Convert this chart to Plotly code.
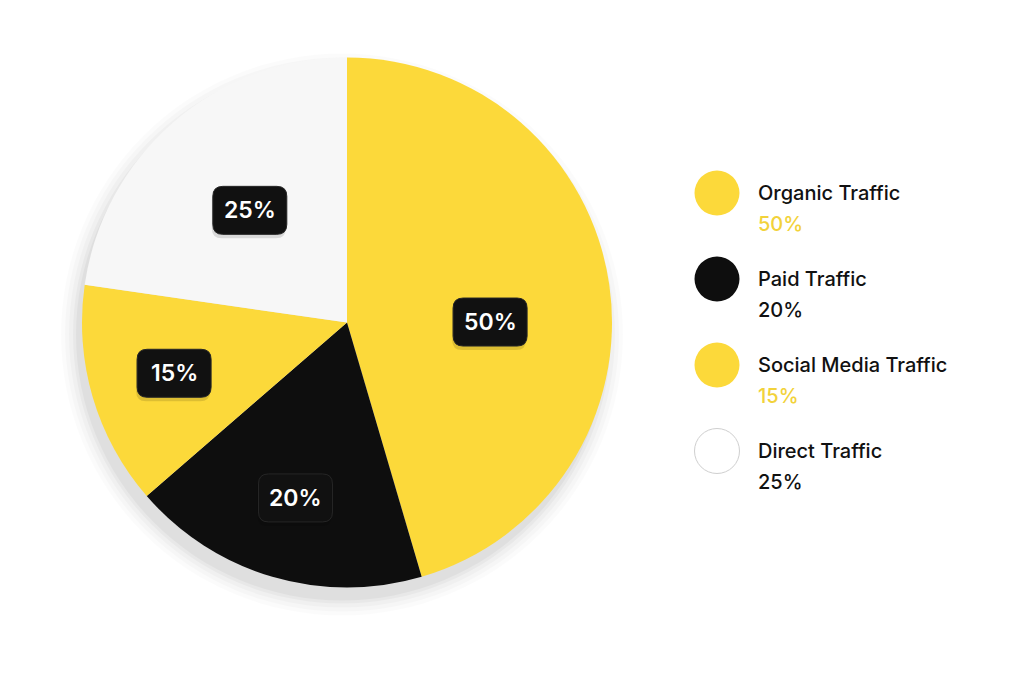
import math
import plotly.graph_objects as go

categories = ["Organic Traffic", "Paid Traffic", "Social Media Traffic", "Direct Traffic"]
values = [50, 20, 15, 25]
colors = ["#FCD93A", "#0E0E0E", "#FCD93A", "#F7F7F7"]
pct_colors = ["#F2D23A", "#111111", "#F2D23A", "#111111"]
label_radius = [0.54, 0.69, 0.68, 0.56]
label_angle_shift = [8, 0, 0, 0]  # degrees, clockwise

W, H = 1024, 683
px_left, px_right, px_top, px_bottom = 82, 612, 47, 598

fig = go.Figure()
fig.add_trace(go.Pie(
    labels=categories,
    values=values,
    sort=False,
    direction="clockwise",
    marker=dict(colors=colors, line=dict(width=0)),
    textinfo="none",
    hoverinfo="label+value",
    showlegend=False,
    domain=dict(x=[px_left / W, px_right / W], y=[1 - px_bottom / H, 1 - px_top / H]),
))

cx = (px_left + px_right) / 2
cy = (px_top + px_bottom) / 2
R = min(px_right - px_left, px_bottom - px_top) / 2

shapes = []
annotations = []

# soft shadow under the pie
for grow, op in [(16, 0.015), (12, 0.02), (8, 0.025), (4, 0.03), (1, 0.035)]:
    ox, oy = -5, 12
    shapes.append(dict(
        type="circle", xref="paper", yref="paper", layer="below",
        x0=(cx - R - grow + ox) / W, x1=(cx + R + grow + ox) / W,
        y0=1 - (cy + R + grow + oy) / H, y1=1 - (cy - R - grow + oy) / H,
        fillcolor=f"rgba(0,0,0,{op})", line=dict(width=0),
    ))

total = sum(values)
cum = 0
bw, bh, rr = 74, 48, 10
for i, v in enumerate(values):
    mid = (cum + v / 2) / total
    cum += v
    ang = math.pi / 2 - 2 * math.pi * mid - math.radians(label_angle_shift[i])
    lx = cx + R * label_radius[i] * math.cos(ang)
    ly = cy - R * label_radius[i] * math.sin(ang)
    xa, ya = lx / W, 1 - ly / H
    hw, hh = bw / 2, bh / 2
    path = (f"M {-hw+rr},{-hh} L {hw-rr},{-hh} Q {hw},{-hh} {hw},{-hh+rr} "
            f"L {hw},{hh-rr} Q {hw},{hh} {hw-rr},{hh} L {-hw+rr},{hh} "
            f"Q {-hw},{hh} {-hw},{hh-rr} L {-hw},{-hh+rr} Q {-hw},{-hh} {-hw+rr},{-hh} Z")
    shapes.append(dict(type="path", xref="paper", yref="paper",
                       xsizemode="pixel", ysizemode="pixel",
                       xanchor=xa - 1 / W, yanchor=ya - 4 / H, path=path,
                       fillcolor="rgba(0,0,0,0.12)", line=dict(width=0)))
    shapes.append(dict(type="path", xref="paper", yref="paper",
                       xsizemode="pixel", ysizemode="pixel",
                       xanchor=xa, yanchor=ya, path=path,
                       fillcolor="#111111", line=dict(width=1, color="#262626")))
    annotations.append(dict(x=xa, y=ya, xref="paper", yref="paper",
                            text=f"{v}%", showarrow=False,
                            font=dict(family="Inter", size=23, color="white", weight=600),
                            xanchor="center", yanchor="middle"))

# custom legend
leg_cx, leg_y0, leg_dy, leg_d = 717, 193, 86, 45
text_x = 756
for i, name in enumerate(categories):
    yc = leg_y0 + i * leg_dy
    shapes.append(dict(
        type="circle", xref="paper", yref="paper",
        x0=(leg_cx - leg_d / 2) / W, x1=(leg_cx + leg_d / 2) / W,
        y0=1 - (yc + leg_d / 2) / H, y1=1 - (yc - leg_d / 2) / H,
        fillcolor=colors[i] if colors[i] != "#F7F7F7" else "#FFFFFF",
        line=dict(width=1 if colors[i] == "#F7F7F7" else 0, color="#CFCFCF"),
    ))
    annotations.append(dict(x=text_x / W, y=1 - yc / H, xref="paper", yref="paper",
                            text=name, showarrow=False, xanchor="left", yanchor="middle",
                            font=dict(family="Inter", size=20, color="#111111", weight=500)))
    annotations.append(dict(x=text_x / W, y=1 - (yc + 31) / H, xref="paper", yref="paper",
                            text=f"{values[i]}%", showarrow=False, xanchor="left", yanchor="middle",
                            font=dict(family="Inter", size=20, color=pct_colors[i], weight=500)))

fig.update_layout(
    width=W, height=H,
    margin=dict(l=0, r=0, t=0, b=0),
    paper_bgcolor="#FFFFFF",
    plot_bgcolor="#FFFFFF",
    shapes=shapes,
    annotations=annotations,
)

fig.write_html("out.html", config={"displayModeBar": False},
               post_script="document.body.style.margin='0';")
